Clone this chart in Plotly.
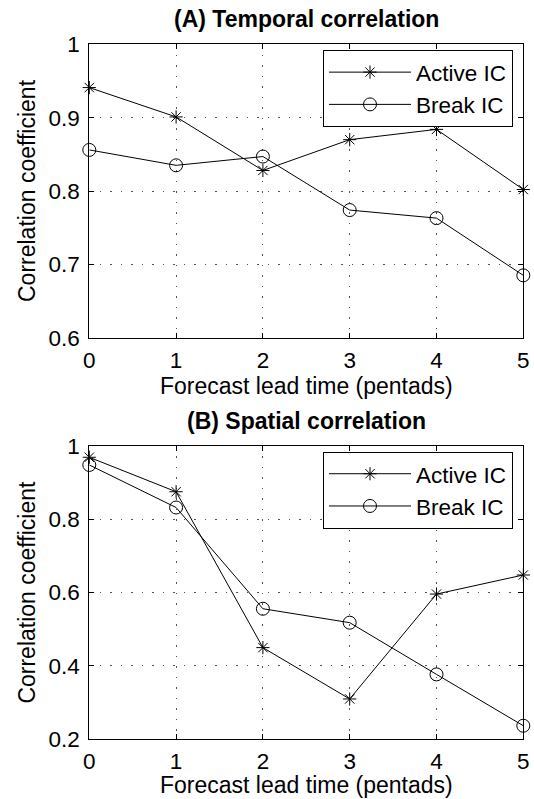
import plotly.graph_objects as go

lead = [0, 1, 2, 3, 4, 5]
temporal_active = [0.941, 0.901, 0.828, 0.870, 0.884, 0.802]
temporal_break = [0.856, 0.835, 0.847, 0.774, 0.763, 0.685]
spatial_active = [0.969, 0.875, 0.450, 0.310, 0.596, 0.648]
spatial_break = [0.948, 0.832, 0.556, 0.518, 0.377, 0.237]

panel_titles = ["(A) Temporal correlation", "(B) Spatial correlation"]
x_title = "Forecast lead time (pentads)"
y_title = "Correlation coefficient"

W, H = 534, 799
FONT = "Liberation Sans, Arial, Helvetica, sans-serif"
FS_TICK = 22.5
FS_TITLE = 23

fig = go.Figure()

def add_series(y, name, symbol, size, xa, ya, legend):
    fig.add_trace(go.Scatter(
        x=lead, y=y, name=name, mode="lines+markers",
        line=dict(color="black", width=1),
        marker=dict(symbol=symbol, size=size, color="black",
                    line=dict(color="black", width=1)),
        cliponaxis=False, xaxis=xa, yaxis=ya, legend=legend,
    ))

add_series(temporal_active, "Active IC", "asterisk-open", 11, "x", "y", "legend")
add_series(temporal_break, "Break IC", "circle-open", 13, "x", "y", "legend")
add_series(spatial_active, "Active IC", "asterisk-open", 11, "x2", "y2", "legend2")
add_series(spatial_break, "Break IC", "circle-open", 13, "x2", "y2", "legend2")

L, R = 89.3, 523.3
top1, bot1 = 44.3, 337.7
off = 401.6

def px(x):
    return x / W

def py(y):
    return 1 - y / H

axis_common = dict(
    showline=True, linecolor="black", linewidth=1, mirror="ticks",
    ticks="inside", ticklen=5, tickcolor="black",
    showgrid=True, gridcolor="#555555", gridwidth=1, griddash="1.5px,9px",
    zeroline=False, tickfont=dict(family=FONT, size=FS_TICK, color="black"),
    automargin=False,
)

fig.update_layout(
    xaxis=dict(domain=[px(L), px(R)], range=[0, 5], tickvals=lead, anchor="y",
               ticklabelstandoff=2, **axis_common),
    yaxis=dict(domain=[py(bot1), py(top1)], range=[0.6, 1], dtick=0.1, anchor="x",
               ticklabelstandoff=4, **axis_common),
    xaxis2=dict(domain=[px(L), px(R)], range=[0, 5], tickvals=lead, anchor="y2",
                ticklabelstandoff=2, **axis_common),
    yaxis2=dict(domain=[py(bot1 + off), py(top1 + off)], range=[0.2, 1], dtick=0.2, anchor="x2",
                ticklabelstandoff=4, **axis_common),
)

legend_common = dict(
    bgcolor="white", bordercolor="black", borderwidth=1,
    font=dict(family=FONT, size=FS_TICK, color="black"),
    xanchor="right", yanchor="top", tracegroupgap=0, itemwidth=82,
)
fig.update_layout(
    legend=dict(x=px(513), y=py(50), **legend_common),
    legend2=dict(x=px(513), y=py(50 + off), **legend_common),
)

annotations = []
for i, t in enumerate(panel_titles):
    o = i * off
    annotations.append(dict(text="<b>" + t + "</b>", x=px((L + R) / 2), y=py(19 + o),
                            xref="paper", yref="paper", showarrow=False,
                            xanchor="center", yanchor="middle", borderpad=0,
                            font=dict(family=FONT, size=FS_TITLE, color="black")))
    if i == 0:
        annotations.append(dict(text=x_title, x=px((L + R) / 2), y=py(385.5),
                                xref="paper", yref="paper", showarrow=False,
                                xanchor="center", yanchor="middle", borderpad=0, height=26,
                                font=dict(family=FONT, size=FS_TITLE, color="black")))
    else:
        annotations.append(dict(text=x_title, x=px((L + R) / 2), y=0,
                                xref="paper", yref="paper", showarrow=False,
                                xanchor="center", yanchor="bottom", borderpad=0, height=26,
                                font=dict(family=FONT, size=FS_TITLE, color="black")))
    annotations.append(dict(text=y_title, x=px(27), y=py((top1 + bot1) / 2 + o),
                            xref="paper", yref="paper", showarrow=False,
                            xanchor="center", yanchor="middle", textangle=-90, borderpad=0,
                            font=dict(family=FONT, size=FS_TITLE, color="black")))

fig.update_layout(
    annotations=annotations,
    width=W, height=H,
    margin=dict(l=0, r=0, t=0, b=0, autoexpand=False),
    paper_bgcolor="white", plot_bgcolor="white",
    showlegend=True,
)

fig.write_html(
    "out.html",
    config={"displayModeBar": False},
    post_script="document.body.style.margin='0';document.body.style.overflow='hidden';",
)
